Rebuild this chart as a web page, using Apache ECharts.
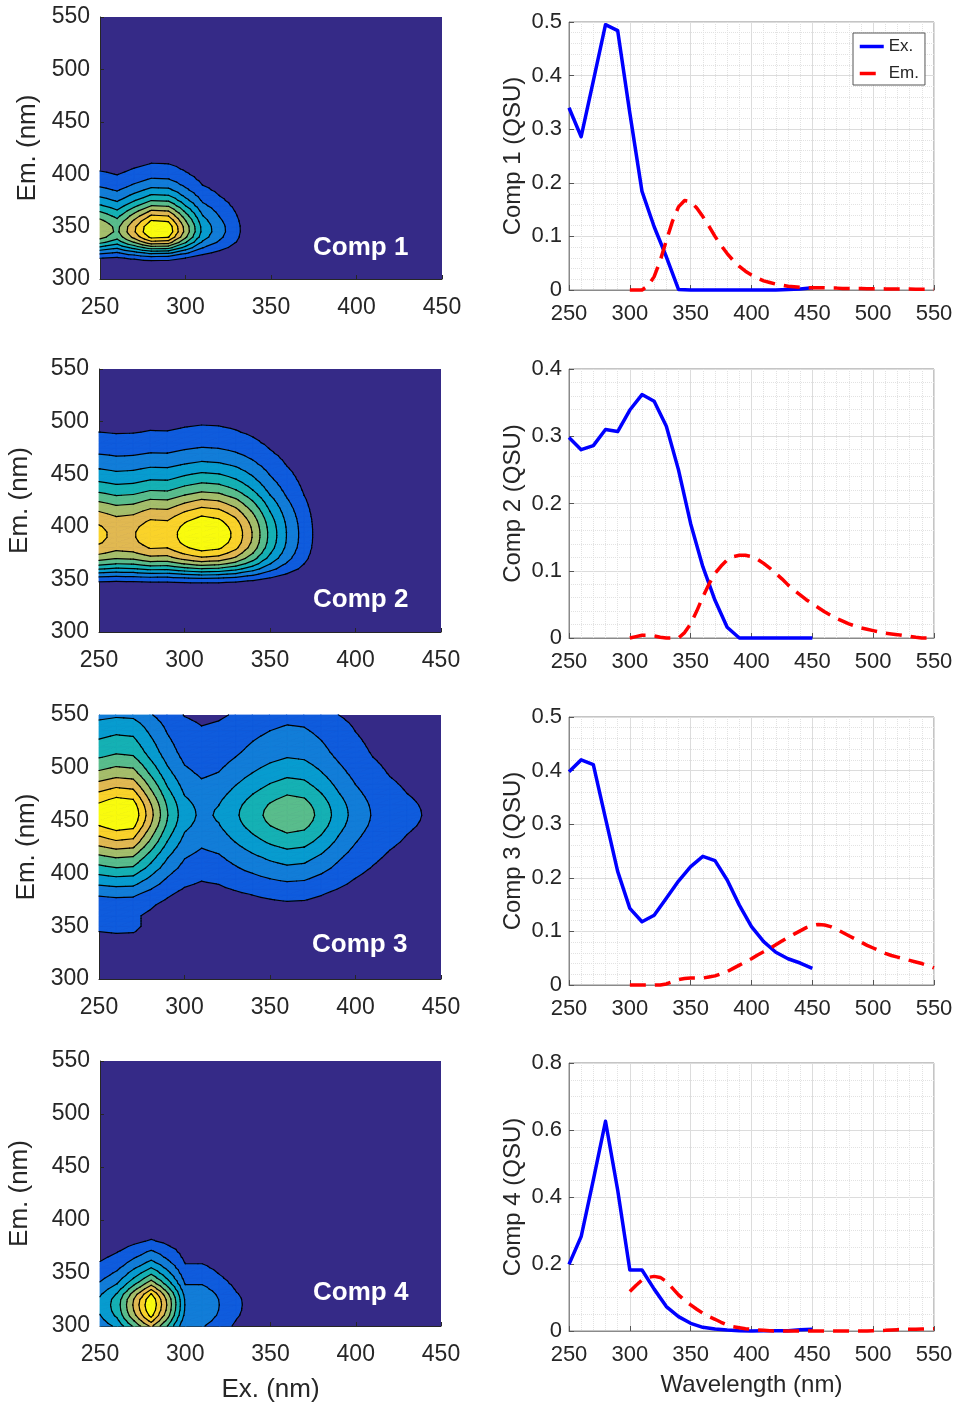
<!DOCTYPE html>
<html>
<head>
<meta charset="utf-8">
<title>PARAFAC components</title>
<script src="https://cdn.jsdelivr.net/npm/echarts@6/dist/echarts.min.js"></script>
<style>
  html, body { margin: 0; padding: 0; background: #fff; }
  #main { width: 957px; height: 1405px; }
</style>
</head>
<body>
<div id="main"></div>
<script>
// excitation wavelengths (nm)
var exWave = [250, 260, 270, 280, 290, 300, 310, 320, 330, 340, 350, 360, 370, 380, 390, 400, 410, 420, 430, 440, 450];
// emission wavelengths (nm)
var emWave = [300, 305, 310, 315, 320, 325, 330, 335, 340, 345, 350, 355, 360, 365, 370, 375, 380, 385, 390, 395,
  400, 405, 410, 415, 420, 425, 430, 435, 440, 445, 450, 455, 460, 465, 470, 475, 480, 485, 490, 495,
  500, 505, 510, 515, 520, 525, 530, 535, 540, 545, 550];

// tick labels
var exTicks = [250, 300, 350, 400, 450];
var emTicks = [300, 350, 400, 450, 500, 550];
var waveTicks = [250, 300, 350, 400, 450, 500, 550];
var qsuTicks1 = [0, 0.1, 0.2, 0.3, 0.4, 0.5];
var qsuTicks2 = [0, 0.1, 0.2, 0.3, 0.4];
var qsuTicks3 = [0, 0.1, 0.2, 0.3, 0.4, 0.5];
var qsuTicks4 = [0, 0.2, 0.4, 0.6, 0.8];

// excitation loadings (QSU)
var comp1Ex = [0.34, 0.286, 0.39, 0.495, 0.484, 0.33, 0.184, 0.118, 0.062, 0.001, 0, 0, 0, 0, 0, 0, 0, 0, 0.001, 0.002, 0.004];
var comp2Ex = [0.298, 0.28, 0.286, 0.31, 0.307, 0.339, 0.362, 0.352, 0.315, 0.25, 0.17, 0.106, 0.056, 0.016, 0, 0, 0, 0, 0, 0, 0];
var comp3Ex = [0.398, 0.42, 0.411, 0.311, 0.212, 0.143, 0.118, 0.13, 0.162, 0.194, 0.221, 0.24, 0.232, 0.196, 0.149, 0.109, 0.081, 0.061, 0.049, 0.041, 0.031];
var comp4Ex = [0.199, 0.282, 0.451, 0.626, 0.421, 0.182, 0.182, 0.125, 0.073, 0.043, 0.023, 0.011, 0.006, 0.003, 0.001, 0, 0.001, 0.001, 0.001, 0.004, 0.005];

// emission loadings (QSU)
var comp1Em = [0, 0, 0, 0.008, 0.025, 0.055, 0.092, 0.128, 0.155, 0.167, 0.165, 0.153, 0.137, 0.119, 0.1, 0.083, 0.068, 0.055, 0.044, 0.035,
  0.028, 0.022, 0.017, 0.014, 0.011, 0.009, 0.007, 0.006, 0.005, 0.0045, 0.004, 0.004, 0.004, 0.0035, 0.0035, 0.003, 0.003, 0.003, 0.003, 0.0025,
  0.0025, 0.0025, 0.002, 0.002, 0.002, 0.002, 0.002, 0.0015, 0.0015, 0.0015, 0.001];
var comp2Em = [0, 0.002, 0.004, 0.004, 0.003, 0.001, 0, 0, 0, 0.008, 0.021, 0.04, 0.061, 0.08, 0.096, 0.107, 0.116, 0.121, 0.123, 0.123,
  0.121, 0.117, 0.111, 0.104, 0.096, 0.088, 0.079, 0.071, 0.064, 0.057, 0.051, 0.045, 0.039, 0.034, 0.029, 0.025, 0.021, 0.018, 0.015, 0.013,
  0.011, 0.009, 0.007, 0.006, 0.005, 0.0035, 0.0025, 0.001, 0, 0, 0];
var comp3Em = [0, 0, 0, 0, 0, 0, 0.002, 0.006, 0.01, 0.012, 0.013, 0.013, 0.013, 0.015, 0.017, 0.021, 0.025, 0.031, 0.037, 0.043,
  0.049, 0.056, 0.062, 0.068, 0.075, 0.082, 0.089, 0.095, 0.101, 0.107, 0.111, 0.113, 0.112, 0.109, 0.104, 0.098, 0.092, 0.086, 0.08, 0.074,
  0.069, 0.064, 0.059, 0.055, 0.052, 0.049, 0.046, 0.043, 0.04, 0.036, 0.032];
var comp4Em = [0.118, 0.136, 0.152, 0.16, 0.163, 0.16, 0.148, 0.128, 0.108, 0.092, 0.078, 0.065, 0.053, 0.043, 0.035, 0.026, 0.018, 0.013, 0.01, 0.007,
  0.005, 0.003, 0.002, 0.001, 0, 0, 0, 0, 0, 0, 0, 0, 0, 0, 0, 0, 0, 0, 0, 0,
  0.001, 0.0015, 0.002, 0.003, 0.004, 0.0045, 0.005, 0.0055, 0.006, 0.0065, 0.007];

var compNames = ['Comp 1', 'Comp 2', 'Comp 3', 'Comp 4'];
var exLoadings = [comp1Ex, comp2Ex, comp3Ex, comp4Ex];
var emLoadings = [comp1Em, comp2Em, comp3Em, comp4Em];
var qsuTicks = [qsuTicks1, qsuTicks2, qsuTicks3, qsuTicks4];

// contour levels as fractions of each component's peak
var levelFractions = [0.1, 0.2, 0.3, 0.4, 0.5, 0.6, 0.7, 0.8, 0.9];
// parula colours for the bands (band 0 = below first level)
var bandColors = ['#352A87', '#0F5CDD', '#127DD8', '#079CCF', '#15B1B4', '#59BD8C', '#A5BE6B', '#E1B952', '#FAD32A', '#F9FB0E'];

var FONT = '"Liberation Sans", Arial, Helvetica, sans-serif';
var INK = '#262626';

var eemGrids = [
  { left: 100, top: 17, width: 342, height: 262 },
  { left: 99, top: 369, width: 342, height: 263 },
  { left: 99, top: 715, width: 342, height: 264 },
  { left: 100, top: 1061, width: 341, height: 265 }
];
var lineGrids = [
  { left: 569, top: 22, width: 365, height: 268 },
  { left: 569, top: 369, width: 365, height: 269 },
  { left: 569, top: 717, width: 365, height: 268 },
  { left: 569, top: 1063, width: 365, height: 268 }
];
var emNameGap = [59, 66, 59, 67];
var compLabelPos = [[313, 235], [313, 587], [312, 932], [313, 1280]];

// EEM of a component = outer product of its excitation and emission loadings
function cellData(ex, em) {
  var cells = [];
  for (var i = 0; i < exWave.length - 1; i++) {
    for (var j = 0; j < emWave.length - 1; j++) {
      cells.push([exWave[i], emWave[j], exWave[i + 1], emWave[j + 1],
        ex[i] * em[j], ex[i + 1] * em[j], ex[i] * em[j + 1], ex[i + 1] * em[j + 1]]);
    }
  }
  return cells;
}

function peakOf(cells) {
  var m = 0;
  cells.forEach(function (c) {
    for (var n = 4; n < 8; n++) if (c[n] > m) m = c[n];
  });
  return m;
}

function bandIndex(v, levels) {
  var k = 0;
  while (k < levels.length && v >= levels[k]) k++;
  return k;
}

// clip a polygon whose vertices carry a value, against value >= level (or <= level)
function clip(poly, level, keepAbove) {
  var out = [];
  for (var n = 0; n < poly.length; n++) {
    var a = poly[n], b = poly[(n + 1) % poly.length];
    var fa = keepAbove ? a[2] - level : level - a[2];
    var fb = keepAbove ? b[2] - level : level - b[2];
    if (fa >= 0) out.push(a);
    if ((fa >= 0) !== (fb >= 0)) {
      var t = fa / (fa - fb);
      out.push([a[0] + t * (b[0] - a[0]), a[1] + t * (b[1] - a[1]), level]);
    }
  }
  return out;
}

function cellTriangles(api) {
  var x0 = api.value(0), y0 = api.value(1), x1 = api.value(2), y1 = api.value(3);
  var c00 = api.coord([x0, y0]), c10 = api.coord([x1, y0]);
  var c01 = api.coord([x0, y1]), c11 = api.coord([x1, y1]);
  var p00 = [c00[0], c00[1], api.value(4)];
  var p10 = [c10[0], c10[1], api.value(5)];
  var p01 = [c01[0], c01[1], api.value(6)];
  var p11 = [c11[0], c11[1], api.value(7)];
  return [[p00, p10, p11], [p00, p11, p01]];
}

function fillRenderer(levels) {
  return function (params, api) {
    var children = [];
    cellTriangles(api).forEach(function (tri) {
      var vs = tri.map(function (p) { return p[2]; });
      var kLo = bandIndex(Math.min.apply(null, vs), levels);
      var kHi = bandIndex(Math.max.apply(null, vs), levels);
      for (var k = Math.max(kLo, 1); k <= kHi; k++) {
        var poly = tri;
        if (k > kLo) poly = clip(poly, levels[k - 1], true);
        if (k < kHi) poly = clip(poly, levels[k], false);
        if (poly.length < 3) continue;
        children.push({
          type: 'polygon',
          shape: { points: poly.map(function (p) { return [p[0], p[1]]; }) },
          style: { fill: bandColors[k], stroke: bandColors[k], lineWidth: 0.8 }
        });
      }
    });
    return { type: 'group', children: children };
  };
}

function lineRenderer(levels) {
  return function (params, api) {
    var children = [];
    cellTriangles(api).forEach(function (tri) {
      levels.forEach(function (L) {
        var pts = [];
        for (var n = 0; n < 3; n++) {
          var a = tri[n], b = tri[(n + 1) % 3];
          if ((a[2] >= L) !== (b[2] >= L)) {
            var t = (L - a[2]) / (b[2] - a[2]);
            pts.push([a[0] + t * (b[0] - a[0]), a[1] + t * (b[1] - a[1])]);
          }
        }
        if (pts.length === 2) {
          children.push({
            type: 'line',
            shape: { x1: pts[0][0], y1: pts[0][1], x2: pts[1][0], y2: pts[1][1] },
            style: { stroke: '#000', lineWidth: 1.2, lineCap: 'round' }
          });
        }
      });
    });
    return { type: 'group', children: children };
  };
}

function pairs(xs, ys) {
  return xs.map(function (x, i) { return [x, ys[i]]; });
}

var grids = [], xAxes = [], yAxes = [], series = [], titles = [];

compNames.forEach(function (name, i) {
  var e = 2 * i;      // EEM contour panel
  var g = 2 * i + 1;  // loadings panel

  grids.push(Object.assign({ show: true, backgroundColor: bandColors[0], borderWidth: 0 }, eemGrids[i]));
  xAxes.push({
    gridIndex: e, type: 'value',
    min: exTicks[0], max: exTicks[exTicks.length - 1], interval: exTicks[1] - exTicks[0],
    axisLine: { show: true, onZero: false, lineStyle: { color: INK } },
    axisTick: { show: true, inside: true, length: 4, lineStyle: { color: INK } },
    axisLabel: { margin: 17, fontSize: 23, color: INK, fontFamily: FONT },
    splitLine: { show: false },
    name: i === 3 ? 'Ex. (nm)' : '',
    nameLocation: 'middle', nameGap: 51,
    nameTextStyle: { fontSize: 26, color: INK, fontFamily: FONT }
  });
  yAxes.push({
    gridIndex: e, type: 'value',
    min: emTicks[0], max: emTicks[emTicks.length - 1], interval: emTicks[1] - emTicks[0],
    axisLine: { show: true, onZero: false, lineStyle: { color: INK } },
    axisTick: { show: true, inside: true, length: 4, lineStyle: { color: INK } },
    axisLabel: { margin: 10, fontSize: 23, color: INK, fontFamily: FONT },
    splitLine: { show: false },
    name: 'Em. (nm)', nameLocation: 'middle', nameGap: emNameGap[i],
    nameTextStyle: { fontSize: 26, color: INK, fontFamily: FONT }
  });

  grids.push(Object.assign({ show: true, backgroundColor: '#fff', borderColor: '#8a8a8a', borderWidth: 1 }, lineGrids[i]));
  var yt = qsuTicks[i];
  xAxes.push({
    gridIndex: g, type: 'value',
    min: waveTicks[0], max: waveTicks[waveTicks.length - 1], interval: waveTicks[1] - waveTicks[0],
    axisLine: { show: true, onZero: false, lineStyle: { color: '#8a8a8a' } },
    axisTick: { show: true, inside: true, length: 5, lineStyle: { color: '#555' } },
    minorTick: { show: false, splitNumber: 5 },
    axisLabel: { margin: 13, fontSize: 22, color: INK, fontFamily: FONT },
    splitLine: { show: true, lineStyle: { color: '#dcdcdc', width: 1 } },
    minorSplitLine: { show: true, lineStyle: { color: '#e2e2e2', width: 1, type: 'dotted' } },
    name: i === 3 ? 'Wavelength (nm)' : '',
    nameLocation: 'middle', nameGap: 42,
    nameTextStyle: { fontSize: 24, color: INK, fontFamily: FONT }
  });
  yAxes.push({
    gridIndex: g, type: 'value',
    min: yt[0], max: yt[yt.length - 1], interval: yt[1] - yt[0],
    axisLine: { show: true, onZero: false, lineStyle: { color: '#8a8a8a' } },
    axisTick: { show: true, inside: true, length: 5, lineStyle: { color: '#555' } },
    minorTick: { show: false, splitNumber: i === 3 ? 4 : 5 },
    axisLabel: { margin: 7, fontSize: 22, color: INK, fontFamily: FONT },
    splitLine: { show: true, lineStyle: { color: '#dcdcdc', width: 1 } },
    minorSplitLine: { show: true, lineStyle: { color: '#e2e2e2', width: 1, type: 'dotted' } },
    name: name + ' (QSU)', nameLocation: 'middle', nameGap: 44,
    nameTextStyle: { fontSize: 24, color: INK, fontFamily: FONT }
  });

  var cells = cellData(exLoadings[i], emLoadings[i]);
  var peak = peakOf(cells);
  var levels = levelFractions.map(function (f) { return f * peak; });
  series.push({
    type: 'custom', xAxisIndex: e, yAxisIndex: e, silent: true, progressive: 0,
    encode: { x: [0, 2], y: [1, 3] }, z: 2,
    renderItem: fillRenderer(levels), data: cells
  });
  series.push({
    type: 'custom', xAxisIndex: e, yAxisIndex: e, silent: true, progressive: 0,
    encode: { x: [0, 2], y: [1, 3] }, z: 3,
    renderItem: lineRenderer(levels), data: cells
  });
  titles.push({
    text: name, left: compLabelPos[i][0], top: compLabelPos[i][1], padding: 0,
    textStyle: { color: '#fff', fontSize: 26, fontWeight: 'bold', fontFamily: FONT }
  });

  series.push({
    type: 'line', name: 'Ex.', xAxisIndex: g, yAxisIndex: g,
    data: pairs(exWave, exLoadings[i]),
    symbol: 'none', showSymbol: false, clip: false, z: 3,
    itemStyle: { color: '#0000ff' },
    lineStyle: { color: '#0000ff', width: 3.5, join: 'round' }
  });
  series.push({
    type: 'line', name: 'Em.', xAxisIndex: g, yAxisIndex: g,
    data: pairs(emWave, emLoadings[i]),
    symbol: 'none', showSymbol: false, clip: false, z: 4,
    itemStyle: { color: '#ff0000' },
    lineStyle: { color: '#ff0000', width: 3.5, type: [16, 9], cap: 'butt', join: 'round' }
  });
});

var chart = echarts.init(document.getElementById('main'));
chart.setOption({
  animation: false,
  backgroundColor: '#fff',
  textStyle: { fontFamily: FONT },
  title: titles,
  legend: {
    data: ['Ex.', 'Em.'],
    orient: 'vertical',
    left: 853, top: 33,
    padding: [5, 6, 3, 5],
    itemWidth: 24, itemHeight: 18, itemGap: 10,
    backgroundColor: '#fff', borderColor: '#555', borderWidth: 1,
    selectedMode: false,
    itemStyle: { opacity: 0 },
    lineStyle: { width: 3.5 },
    textStyle: { fontSize: 17, color: INK, fontFamily: FONT }
  },
  grid: grids,
  xAxis: xAxes,
  yAxis: yAxes,
  series: series
});
</script>
</body>
</html>
